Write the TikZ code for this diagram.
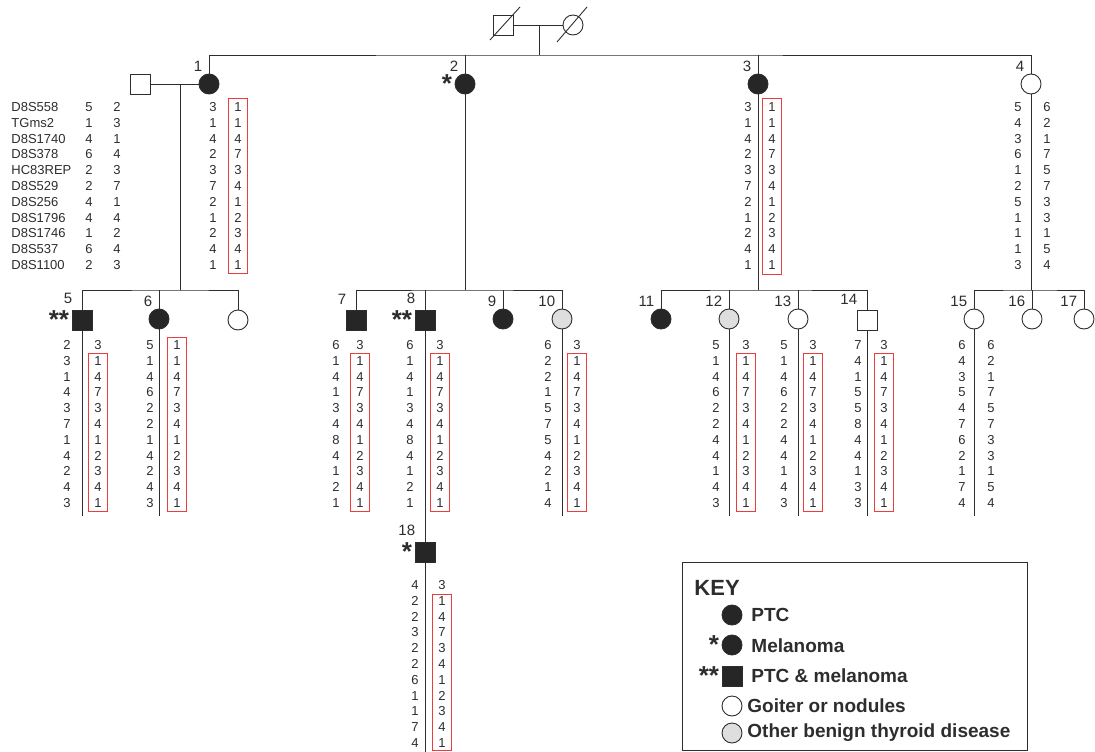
\documentclass[tikz,border=0pt]{standalone}
\usepackage{fontspec}
\setmainfont{Liberation Sans}
\usepackage{tikz}
\definecolor{lnc}{RGB}{45,45,45}
\definecolor{boxred}{RGB}{236,60,60}

% one haplotype column: name, x, y of first row, alleles
\newcommand\alleles[4]{%
  \foreach \a [count=\k from 0] in {#4}
    \node[hap] (#1\k) at (#2,#3+15.8*\k) {\a};}
% red frame round a shared haplotype: x, top, bottom
\newcommand\redfrm[3]{\draw[redbox] (#1-9.5,#2) rectangle (#1+9.5,#3);}

\begin{document}
\begin{tikzpicture}[
  x=1pt, y=-1pt, color=lnc, line width=0.9pt,
  fem/.style={circle, draw, minimum size=20pt, inner sep=0pt, fill=white},
  mal/.style={rectangle, draw, minimum size=20pt, inner sep=0pt, fill=white},
  aff/.style={fill=black!85},
  ben/.style={fill=black!13},
  hap/.style={font=\fontsize{13}{15}\selectfont, inner sep=0pt},
  mk/.style={font=\fontsize{13}{15}\selectfont, anchor=west, inner sep=0pt},
  idlab/.style={font=\fontsize{15}{18}\selectfont, anchor=south east, inner sep=0pt, xshift=1pt, yshift=5pt},
  ast/.style={font=\bfseries\fontsize{26}{28}\selectfont, inner sep=0pt, xshift=-2pt},
  redbox/.style={draw=boxred, line width=1pt},
  keytxt/.style={font=\bfseries\fontsize{19}{22}\selectfont, anchor=west, inner sep=0pt}
]
\useasboundingbox (0,0) rectangle (1095,752);

% founders
\node[mal] (gf) at (503,25) {};
\node[fem] (gm) at (573,25) {};
\draw ([shift={(-13,15)}]gf.center) -- ([shift={(17,-18)}]gf.center);
\draw ([shift={(-16,17)}]gm.center) -- ([shift={(14,-18)}]gm.center);
\draw (gf) -- (gm);
\coordinate (c0) at (539,25);
\coordinate (t0) at (539,55);
\draw (c0) -- (t0);

% generation I
\node[fem,aff,label={[idlab]north west:1}] (i1) at (209,84) {};
\node[mal] (s1) at (140,84) {};
\node[fem,aff,label={[idlab]north west:2},label={[ast]west:*}] (i2) at (465,84) {};
\node[fem,aff,label={[idlab]north west:3}] (i3) at (758,84) {};
\node[fem,label={[idlab]north west:4}] (i4) at (1031,84) {};
\draw (i1.north) |- (t0) -| (i4.north);
\draw (i2) -- (i2 |- t0);
\draw (i3) -- (i3 |- t0);
\draw (s1) -- (i1);

\foreach \m [count=\k from 0] in {D8S558,TGms2,D8S1740,D8S378,HC83REP,D8S529,D8S256,D8S1796,D8S1746,D8S537,D8S1100}
  \node[mk] (m\k) at (11,107+15.8*\k) {\m};
\alleles{s1a}{89}{107}{5,1,4,6,2,2,4,4,1,6,2}
\alleles{s1b}{117}{107}{2,3,1,4,3,7,1,4,2,4,3}
\alleles{i1a}{213}{107}{3,1,4,2,3,7,2,1,2,4,1}
\alleles{i1b}{238}{107}{1,1,4,7,3,4,1,2,3,4,1}
\alleles{i3a}{748}{107}{3,1,4,2,3,7,2,1,2,4,1}
\alleles{i3b}{772}{107}{1,1,4,7,3,4,1,2,3,4,1}
\alleles{i4a}{1018}{107}{5,4,3,6,1,2,5,1,1,1,3}
\alleles{i4b}{1047}{107}{6,2,1,7,5,7,3,3,1,5,4}
\redfrm{238}{98}{273}
\redfrm{772}{98}{274}

% generation II
\coordinate (t1) at (180,290);
\coordinate (c1) at (180,84);
\draw (c1) -- (t1);
\node[mal,aff,label={[idlab]north west:5},label={[ast]west:**}] (i5) at (82,320) {};
\node[fem,aff,label={[idlab]north west:6}] (i6) at (159,319) {};
\node[fem] (u1) at (238,320) {};
\draw (i5.north) |- (t1) -| (u1.north);
\draw (i6) -- (i6 |- t1);

\coordinate (t2) at (465,290);
\draw (i2) -- (t2);
\node[mal,aff,label={[idlab]north west:7}] (i7) at (356,320) {};
\node[mal,aff,label={[idlab]north west:8},label={[ast]west:**}] (i8) at (425,320) {};
\node[fem,aff,label={[idlab]north west:9}] (i9) at (503,319) {};
\node[fem,ben,label={[idlab]north west:10}] (i10) at (562,319) {};
\draw (i7.north) |- (t2) -| (i10.north);
\draw (i8) -- (i8 |- t2);
\draw (i9) -- (i9 |- t2);

\coordinate (t3) at (758,290);
\draw (i3) -- (t3);
\node[fem,aff,label={[idlab]north west:11}] (i11) at (661,319) {};
\node[fem,ben,label={[idlab]north west:12}] (i12) at (729,319) {};
\node[fem,label={[idlab]north west:13}] (i13) at (798,319) {};
\node[mal,label={[idlab]north west:14}] (i14) at (867,320) {};
\draw (i11.north) |- (t3) -| (i14.north);
\draw (i12) -- (i12 |- t3);
\draw (i13) -- (i13 |- t3);

\coordinate (t4) at (1031,290);
\draw (i4) -- (t4);
\node[fem,label={[idlab]north west:15}] (i15) at (974,319) {};
\node[fem,label={[idlab]north west:16}] (i16) at (1032,319) {};
\node[fem,label={[idlab]north west:17}] (i17) at (1084,319) {};
\draw (i15.north) |- (t4) -| (i17.north);
\draw (i16) -- (i16 |- t4);

\coordinate (bot) at (0,516);
\foreach \n in {5,6,10,12,13,14,15}
  \draw (i\n) -- (i\n |- bot);

\alleles{i5a}{67}{345}{2,3,1,4,3,7,1,4,2,4,3}
\alleles{i5b}{98}{345}{3,1,4,7,3,4,1,2,3,4,1}
\alleles{i6a}{150}{345}{5,1,4,6,2,2,1,4,2,4,3}
\alleles{i6b}{177}{345}{1,1,4,7,3,4,1,2,3,4,1}
\alleles{i7a}{336}{345}{6,1,4,1,3,4,8,4,1,2,1}
\alleles{i7b}{360}{345}{3,1,4,7,3,4,1,2,3,4,1}
\alleles{i8a}{410}{345}{6,1,4,1,3,4,8,4,1,2,1}
\alleles{i8b}{440}{345}{3,1,4,7,3,4,1,2,3,4,1}
\alleles{i10a}{548}{345}{6,2,2,1,5,7,5,4,2,1,4}
\alleles{i10b}{577}{345}{3,1,4,7,3,4,1,2,3,4,1}
\alleles{i12a}{716}{345}{5,1,4,6,2,2,4,4,1,4,3}
\alleles{i12b}{746}{345}{3,1,4,7,3,4,1,2,3,4,1}
\alleles{i13a}{784}{345}{5,1,4,6,2,2,4,4,1,4,3}
\alleles{i13b}{813}{345}{3,1,4,7,3,4,1,2,3,4,1}
\alleles{i14a}{858}{345}{7,4,1,5,5,8,4,4,1,3,3}
\alleles{i14b}{884}{345}{3,1,4,7,3,4,1,2,3,4,1}
\alleles{i15a}{962}{345}{6,4,3,5,4,7,6,2,1,7,4}
\alleles{i15b}{991}{345}{6,2,1,7,5,7,3,3,1,5,4}
\redfrm{98}{353}{511}
\redfrm{177}{337}{511}
\redfrm{360}{353}{511}
\redfrm{440}{353}{511}
\redfrm{577}{353}{511}
\redfrm{746}{353}{511}
\redfrm{813}{353}{511}
\redfrm{884}{353}{511}

% generation III
\node[mal,aff,label={[idlab]north west:18},label={[ast]west:*}] (i18) at (425,552) {};
\draw (i8) -- (i18);
\coordinate (foot) at (0,752);
\draw (i18) -- (i18 |- foot);
\alleles{i18a}{415}{585}{4,2,2,3,2,2,6,1,1,7,4}
\alleles{i18b}{442}{585}{3,1,4,7,3,4,1,2,3,4,1}
\redfrm{442}{594}{750}

% key
\node[draw, line width=1pt, minimum width=345pt, minimum height=188pt, inner sep=0pt] (key) at (854.5,656) {};
\node[font=\bfseries\fontsize{22}{24}\selectfont, anchor=west, inner sep=0pt] (keyt) at (694,588) {KEY};
\node[fem,aff] (k1) at (732,615) {};
\node[fem,aff,label={[ast]west:*}] (k2) at (732,645) {};
\node[mal,aff,label={[ast]west:**}] (k3) at (732,676) {};
\node[fem] (k4) at (732,706) {};
\node[fem,ben] (k5) at (732,733) {};
\node[keytxt] (kt1) at (751,615) {PTC};
\node[keytxt] (kt2) at (751,646) {Melanoma};
\node[keytxt] (kt3) at (751,676) {PTC \& melanoma};
\node[keytxt] (kt4) at (747,706) {Goiter or nodules};
\node[keytxt] (kt5) at (747,733) {Other benign thyroid disease};
\end{tikzpicture}
\end{document}
